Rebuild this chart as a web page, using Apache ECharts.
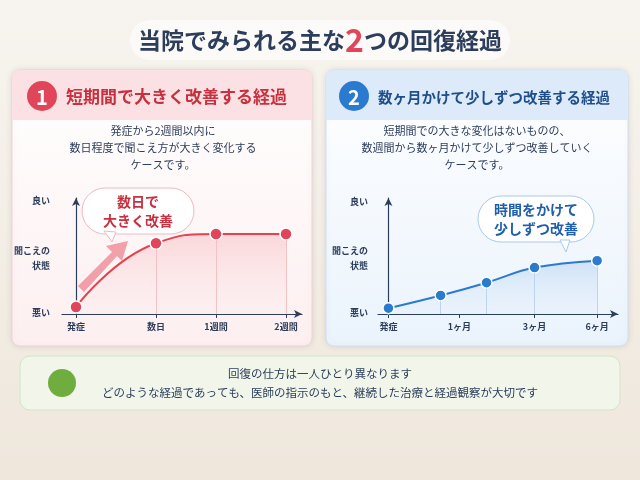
<!DOCTYPE html>
<html><head><meta charset="utf-8">
<script src="https://cdn.jsdelivr.net/npm/echarts@6/dist/echarts.min.js"></script>
<style>html,body{margin:0;padding:0}#c{width:640px;height:480px}</style>
</head><body><div id="c"></div>
<script>
// left chart: quick recovery
const leftTicks = ['発症', '数日', '1週間', '2週間'];
const leftTickPos = [0, 4, 7, 10.5];
const leftValues = [0.6, 6.1, 6.9, 6.9];
// right chart: gradual recovery
const rightTicks = ['発症', '1ヶ月', '3ヶ月', '6ヶ月'];
const rightTickPos = [0, 3.4, 7, 10];
const rightPointPos = [0, 2.5, 4.7, 7, 10];
const rightValues = [0.5, 1.6, 2.7, 4.0, 4.6];

const FONT = '"Noto Sans CJK JP", sans-serif';
const RED = '#e0455a', BLUE = '#2a7bd0', NAVY = '#2c3e5c';

const chart = echarts.init(document.getElementById('c'));

function xAxis(gi, ticks, pos, min, max) {
  const map = {};
  pos.forEach((p, i) => map[p] = ticks[i]);
  return {
    type: 'value', gridIndex: gi, min: min, max: max,
    splitLine: { show: false },
    axisLine: { lineStyle: { color: NAVY, width: 1.2 }, symbol: ['none', 'arrow'], symbolSize: [6, 8] },
    axisTick: { show: true, customValues: pos, length: 4, lineStyle: { color: NAVY } },
    axisLabel: { customValues: pos, formatter: v => map[v] || '', color: NAVY, fontSize: 9, fontWeight: 'bold', fontFamily: FONT, margin: 8 }
  };
}
function yAxis(gi) {
  return {
    type: 'value', gridIndex: gi, min: 0, max: 10,
    axisLine: { show: true, lineStyle: { color: NAVY, width: 1.2 }, symbol: ['none', 'arrow'], symbolSize: [6, 8] },
    axisTick: { show: false }, axisLabel: { show: false }, splitLine: { show: false }
  };
}
function grad(c1, c2) {
  return new echarts.graphic.LinearGradient(0, 0, 0, 1, [{ offset: 0, color: c1 }, { offset: 1, color: c2 }]);
}
function txt(x, y, text, size, color, extra, z) {
  return { type: 'text', x: x, y: y, z: z || 20, style: Object.assign({ text: text, fontSize: size, fill: color, fontFamily: FONT, fontWeight: 'bold' }, extra || {}) };
}
// thin vertical lines from the axis up to just below each point
function dropLines(gi, pos, vals, color) {
  return {
    type: 'line', xAxisIndex: gi, yAxisIndex: gi, z: 1, data: [], silent: true,
    markLine: { silent: true, symbol: 'none', label: { show: false }, lineStyle: { color: color, type: 'solid', width: 1 },
      data: pos.slice(1).map((p, i) => [{ coord: [p, 0] }, { coord: [p, vals[i + 1] - 0.5] }]) }
  };
}

const graphic = [
  { type: 'rect', shape: { x: 0, y: 0, width: 640, height: 480 }, style: { fill: grad('#f7f4ef', '#efe7dc') }, z: -10 },
  { type: 'rect', shape: { x: 130, y: 20, width: 380, height: 40, r: 20 }, style: { fill: 'rgba(255,255,255,0.6)' }, z: -9 },
  { type: 'text', x: 320, y: 40, style: { rich: { a: { fontSize: 23, fill: NAVY, fontWeight: 'bold', fontFamily: FONT }, b: { fontSize: 32, fill: RED, fontWeight: 'bold', fontFamily: FONT } }, text: '{a|当院でみられる主な}{b|2}{a|つの回復経過}', align: 'center', verticalAlign: 'middle' } },
  // left panel
  { type: 'rect', shape: { x: 12, y: 70, width: 300, height: 276, r: 8 }, style: { fill: grad('#ffffff', '#fdeff0'), stroke: '#f3d3d6', shadowBlur: 6, shadowColor: 'rgba(0,0,0,0.1)' }, z: -5 },
  { type: 'rect', shape: { x: 12, y: 70, width: 300, height: 50, r: [8, 8, 0, 0] }, style: { fill: '#fbe1e3' }, z: -4 },
  { type: 'circle', shape: { cx: 42, cy: 96, r: 15 }, style: { fill: RED } },
  txt(42, 97, '1', 20, '#fff', { align: 'center', verticalAlign: 'middle' }),
  txt(66, 97, '短期間で大きく改善する経過', 17, '#c8303f', { verticalAlign: 'middle' }),
  txt(163, 148, '発症から2週間以内に\n数日程度で聞こえ方が大きく変化する\nケースです。', 11, NAVY, { align: 'center', verticalAlign: 'middle', lineHeight: 17, fontWeight: 'normal' }),
  // right panel
  { type: 'rect', shape: { x: 326, y: 70, width: 302, height: 276, r: 8 }, style: { fill: grad('#ffffff', '#eaf3fc'), stroke: '#cfe0f3', shadowBlur: 6, shadowColor: 'rgba(0,0,0,0.1)' }, z: -5 },
  { type: 'rect', shape: { x: 326, y: 70, width: 302, height: 50, r: [8, 8, 0, 0] }, style: { fill: '#dceafa' }, z: -4 },
  { type: 'circle', shape: { cx: 354, cy: 96, r: 15 }, style: { fill: BLUE } },
  txt(354, 97, '2', 20, '#fff', { align: 'center', verticalAlign: 'middle' }),
  txt(378, 97, '数ヶ月かけて少しずつ改善する経過', 14.5, '#1f4f8a', { verticalAlign: 'middle' }),
  txt(477, 148, '短期間での大きな変化はないものの、\n数週間から数ヶ月かけて少しずつ改善していく\nケースです。', 11, NAVY, { align: 'center', verticalAlign: 'middle', lineHeight: 17, fontWeight: 'normal' }),
  // y labels
  txt(50, 201, '良い', 9, NAVY, { align: 'right', verticalAlign: 'middle' }),
  txt(50, 258, '聞こえの\n状態', 9, NAVY, { align: 'right', verticalAlign: 'middle', lineHeight: 15 }),
  txt(50, 313, '悪い', 9, NAVY, { align: 'right', verticalAlign: 'middle' }),
  txt(368, 202, '良い', 9, NAVY, { align: 'right', verticalAlign: 'middle' }),
  txt(368, 258, '聞こえの\n状態', 9, NAVY, { align: 'right', verticalAlign: 'middle', lineHeight: 15 }),
  txt(368, 313, '悪い', 9, NAVY, { align: 'right', verticalAlign: 'middle' }),
  // bubbles
  { type: 'rect', shape: { x: 82, y: 188, width: 112, height: 46, r: 23 }, style: { fill: '#fff', stroke: '#f1b8bf' }, z: 10 },
  { type: 'polygon', shape: { points: [[104, 231], [116, 232], [112, 242]] }, style: { fill: '#fff', stroke: '#f1b8bf' }, z: 10 },
  txt(138, 211, '数日で\n大きく改善', 14, '#c8303f', { align: 'center', verticalAlign: 'middle', lineHeight: 19 }),
  { type: 'polygon', shape: { points: [[78, 286], [112, 252], [106, 246], [128, 241], [122, 261], [117, 256], [84, 292]] }, style: { fill: 'rgba(232,90,105,0.55)' }, z: 8 },
  { type: 'rect', shape: { x: 478, y: 196, width: 116, height: 46, r: 23 }, style: { fill: '#fff', stroke: '#a9c9ec' }, z: 10 },
  { type: 'polygon', shape: { points: [[560, 240], [570, 240], [566, 252]] }, style: { fill: '#fff', stroke: '#a9c9ec' }, z: 10 },
  txt(536, 219, '時間をかけて\n少しずつ改善', 14, '#1f5fae', { align: 'center', verticalAlign: 'middle', lineHeight: 19 }),
  // bottom banner
  { type: 'rect', shape: { x: 20, y: 356, width: 600, height: 54, r: 10 }, style: { fill: 'rgba(240,246,234,0.95)', stroke: '#d5e4c8' } },
  { type: 'circle', shape: { cx: 62, cy: 383, r: 14 }, style: { fill: '#6fae3e' } },
  txt(320, 374, '回復の仕方は一人ひとり異なります', 11.5, NAVY, { align: 'center', verticalAlign: 'middle', fontWeight: 'normal' }),
  txt(320, 393, 'どのような経過であっても、医師の指示のもと、継続した治療と経過観察が大切です', 11.5, NAVY, { align: 'center', verticalAlign: 'middle', fontWeight: 'normal' })
];

chart.setOption({
  animation: false,
  grid: [
    { left: 62, top: 198, width: 240, height: 116 },
    { left: 378, top: 198, width: 240, height: 116 }
  ],
  xAxis: [xAxis(0, leftTicks, leftTickPos, -0.7, 11.3), xAxis(1, rightTicks, rightTickPos, -0.5, 11)],
  yAxis: [yAxis(0), yAxis(1)],
  graphic: graphic,
  series: [
    dropLines(0, leftTickPos, leftValues, '#f3c2c7'),
    dropLines(1, rightPointPos, rightValues, '#bcd4ee'),
    {
      type: 'line', xAxisIndex: 0, yAxisIndex: 0, smooth: 0.5, z: 3,
      data: leftTickPos.map((p, i) => [p, leftValues[i]]),
      symbol: 'circle', symbolSize: 12,
      itemStyle: { color: RED, borderColor: '#fff', borderWidth: 1.5 },
      lineStyle: { color: '#e5424f', width: 2 },
      areaStyle: { color: grad('rgba(240,120,130,0.35)', 'rgba(250,210,215,0.1)') }
    },
    {
      type: 'line', xAxisIndex: 1, yAxisIndex: 1, smooth: 0.4, z: 3,
      data: rightPointPos.map((p, i) => [p, rightValues[i]]),
      symbol: 'circle', symbolSize: 11,
      itemStyle: { color: BLUE, borderColor: '#fff', borderWidth: 1.5 },
      lineStyle: { color: BLUE, width: 2 },
      areaStyle: { color: grad('rgba(120,170,230,0.4)', 'rgba(210,228,248,0.15)') }
    }
  ]
});
</script></body></html>
